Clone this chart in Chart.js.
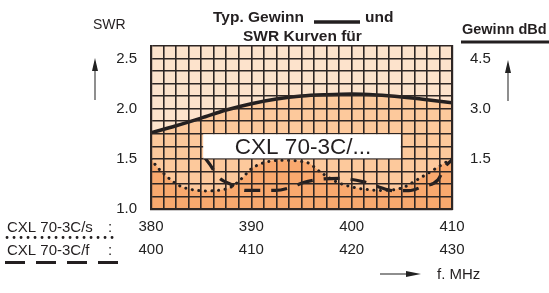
<!DOCTYPE html>
<html><head><meta charset="utf-8">
<script src="https://cdn.jsdelivr.net/npm/chart.js@4/dist/chart.umd.min.js"></script>
<style>html,body{margin:0;padding:0;background:#fff;}canvas{display:block;}</style>
</head><body>
<canvas id="c" width="549" height="293"></canvas>
<script>
// ---- data ----
const gainFreq = [380, 382.5, 385, 387.5, 390, 392.5, 395, 397.5, 400, 402.5, 405, 407.5, 410];
const gainDbd  = [2.28, 2.49, 2.72, 2.96, 3.15, 3.29, 3.38, 3.42, 3.44, 3.41, 3.35, 3.27, 3.18];

const swrSFreq   = [380, 380.6, 381.2, 382.1, 383, 384, 385.5, 387, 388, 389, 390, 391.2, 393, 395.5, 397, 398.5, 400, 401.5, 403, 405, 406.5, 408, 409.3, 410];
const swrSValues = [1.50, 1.42, 1.36, 1.28, 1.225, 1.195, 1.18, 1.19, 1.22, 1.30, 1.40, 1.46, 1.485, 1.465, 1.36, 1.27, 1.22, 1.195, 1.185, 1.21, 1.29, 1.38, 1.46, 1.50];

const swrFFreq   = [405.3, 405.9, 406.7, 408.1, 409.4, 411.1, 412.4, 414.2, 415.2, 417.2, 418.9, 421.2, 422.7, 424.1, 425.7, 427.1, 428.6, 429.3, 430];
const swrFValues = [1.52, 1.44, 1.32, 1.24, 1.185, 1.185, 1.185, 1.225, 1.265, 1.30, 1.305, 1.27, 1.22, 1.183, 1.183, 1.225, 1.29, 1.42, 1.49];

const swrTickLabels  = [1.0, 1.5, 2.0, 2.5];
const gainTickLabels = [1.5, 3.0, 4.5];
const freqTicksS = [380, 390, 400, 410];
const freqTicksF = [400, 410, 420, 430];

// ---- styling ----
const FONT = "'Liberation Sans', Arial, Helvetica, sans-serif";
const INK = '#231f20';
const LIGHT = '#fde3cc', MED = '#fdc99c', DARK = '#f9a96e';
const GRID = '#2e2624';

const pts = (xs, ys) => xs.map((x, i) => ({x, y: ys[i]}));
const inList = (list, v) => list.some(t => Math.abs(t - v) < 1e-6);

function arrow(ctx, x1, y1, x2, y2, head, half) {
  const ang = Math.atan2(y2 - y1, x2 - x1);
  ctx.save();
  ctx.strokeStyle = '#444'; ctx.lineWidth = 1.2;
  ctx.beginPath(); ctx.moveTo(x1, y1);
  ctx.lineTo(x2 - Math.cos(ang) * head * 0.8, y2 - Math.sin(ang) * head * 0.8); ctx.stroke();
  ctx.fillStyle = '#222';
  ctx.beginPath();
  ctx.moveTo(x2, y2);
  ctx.lineTo(x2 - Math.cos(ang) * head - Math.sin(ang) * half, y2 - Math.sin(ang) * head + Math.cos(ang) * half);
  ctx.lineTo(x2 - Math.cos(ang) * head + Math.sin(ang) * half, y2 - Math.sin(ang) * head - Math.cos(ang) * half);
  ctx.closePath(); ctx.fill();
  ctx.restore();
}

const decor = {
  id: 'decor',
  beforeDatasetsDraw(chart) {
    const {ctx, chartArea: a} = chart;
    ctx.save();
    ctx.fillStyle = MED;
    ctx.fillRect(a.left, a.top, a.right - a.left, a.bottom - a.top);
    ctx.restore();
  },
  afterDraw(chart) {
    const {ctx} = chart;
    const xs = chart.scales.xs, y = chart.scales.y;
    ctx.save();
    // white label box inside plot
    const bx1 = xs.getPixelForValue(385.2), bx2 = xs.getPixelForValue(404.9);
    const by1 = y.getPixelForValue(1.745), by2 = y.getPixelForValue(1.505);
    ctx.fillStyle = '#fff';
    ctx.fillRect(bx1, by1, bx2 - bx1, by2 - by1);
    ctx.fillStyle = INK;
    ctx.font = '22.5px ' + FONT;
    ctx.textAlign = 'center'; ctx.textBaseline = 'middle';
    ctx.fillText('CXL 70-3C/...', (bx1 + bx2) / 2 + 1, (by1 + by2) / 2 + 1);

    // title
    ctx.font = 'bold 15.5px ' + FONT;
    ctx.textAlign = 'left'; ctx.textBaseline = 'middle';
    ctx.fillText('Typ. Gewinn', 213, 18);
    ctx.fillText('und', 365, 18);
    ctx.fillText('SWR Kurven für', 243, 37);
    ctx.strokeStyle = INK; ctx.lineWidth = 3.5; ctx.lineCap = 'butt';
    ctx.beginPath(); ctx.moveTo(314, 22); ctx.lineTo(360, 22); ctx.stroke();

    // axis titles
    ctx.font = '14px ' + FONT;
    ctx.fillText('SWR', 93, 25);
    ctx.font = 'bold 14.5px ' + FONT;
    ctx.fillText('Gewinn dBd', 462, 30);
    ctx.lineWidth = 3;
    ctx.beginPath(); ctx.moveTo(461, 42); ctx.lineTo(549, 42); ctx.stroke();

    ctx.font = '15px ' + FONT;
    ctx.fillText('f. MHz', 437, 275);

    // arrows
    arrow(ctx, 95, 100, 95, 58, 13, 3);
    arrow(ctx, 508, 101, 508, 60, 13, 3);
    arrow(ctx, 380, 274, 421, 274, 15, 3);

    // series labels at bottom-left
    ctx.font = '15px ' + FONT;
    ctx.fillText('CXL 70-3C/s', 7, 227.5);
    ctx.fillText(':', 108, 227.5);
    ctx.fillText('CXL 70-3C/f', 7, 250.5);
    ctx.fillText(':', 108, 250.5);
    ctx.strokeStyle = INK;
    ctx.lineCap = 'round'; ctx.lineWidth = 2.8; ctx.setLineDash([0.1, 6.9]);
    ctx.beginPath(); ctx.moveTo(7, 237.5); ctx.lineTo(118, 237.5); ctx.stroke();
    ctx.lineCap = 'butt'; ctx.lineWidth = 3; ctx.setLineDash([20, 11]);
    ctx.beginPath(); ctx.moveTo(5, 262.5); ctx.lineTo(118, 262.5); ctx.stroke();
    ctx.restore();
  }
};

const tickFont = {family: FONT, size: 15};

new Chart(document.getElementById('c'), {
  type: 'line',
  data: {
    datasets: [
      {
        label: 'Gewinn', data: pts(gainFreq, gainDbd), xAxisID: 'xs', yAxisID: 'y1',
        borderColor: INK, borderWidth: 3.5, pointRadius: 0, cubicInterpolationMode: 'monotone',
        fill: {target: 'end', above: LIGHT, below: LIGHT}, order: 3
      },
      {
        label: 'CXL 70-3C/s', data: pts(swrSFreq, swrSValues), xAxisID: 'xs', yAxisID: 'y',
        borderColor: INK, borderWidth: 3, borderDash: [0.1, 6.5], borderCapStyle: 'round',
        pointRadius: 0, cubicInterpolationMode: 'monotone',
        fill: {target: 'start', above: DARK, below: DARK}, order: 2
      },
      {
        label: 'CXL 70-3C/f', data: pts(swrFFreq, swrFValues), xAxisID: 'xf', yAxisID: 'y',
        borderColor: INK, borderWidth: 3.2, borderDash: [16, 11], borderCapStyle: 'butt',
        pointRadius: 0, cubicInterpolationMode: 'monotone', fill: false, order: 1
      }
    ]
  },
  options: {
    responsive: false, animation: false, devicePixelRatio: 1,
    layout: {padding: {top: 46, bottom: 38, left: 0, right: 0}},
    plugins: {legend: {display: false}, tooltip: {enabled: false}, title: {display: false}},
    scales: {
      xs: {
        type: 'linear', position: 'bottom', min: 380, max: 410, weight: 0,
        grid: {color: GRID, lineWidth: 1.6, drawTicks: false, z: 1},
        border: {display: true, color: GRID, width: 2.2, z: 1},
        ticks: {stepSize: 1.25, autoSkip: false, maxRotation: 0, padding: 9, color: '#222', font: tickFont,
          callback: v => inList(freqTicksS, v) ? String(Math.round(v)) : ''},
        afterFit: s => { s.height = 23; }
      },
      xf: {
        type: 'linear', position: 'bottom', min: 400, max: 430, weight: 1,
        grid: {display: false, drawTicks: false},
        border: {display: false},
        ticks: {stepSize: 10, autoSkip: false, maxRotation: 0, padding: 9, color: '#222', font: tickFont,
          callback: v => inList(freqTicksF, v) ? String(Math.round(v)) : ''},
        afterFit: s => { s.height = 23; }
      },
      y: {
        type: 'linear', position: 'left', min: 1, max: 2.625,
        grid: {color: GRID, lineWidth: 1.6, drawTicks: false, z: 1},
        border: {display: true, color: GRID, width: 2.2, z: 1},
        ticks: {stepSize: 0.125, autoSkip: false, padding: 14, color: '#222', font: tickFont,
          callback: v => inList(swrTickLabels, v) ? v.toFixed(1) : ''},
        afterFit: s => { s.width = 151; }
      },
      y1: {
        type: 'linear', position: 'right', min: 0, max: 4.875,
        grid: {display: false, drawTicks: false},
        border: {display: true, color: GRID, width: 2.2, z: 1},
        ticks: {stepSize: 0.375, autoSkip: false, padding: 18, color: '#222', font: tickFont,
          callback: v => inList(gainTickLabels, v) ? v.toFixed(1) : ''},
        afterFit: s => { s.width = 97; }
      }
    }
  },
  plugins: [decor]
});
</script>
</body></html>
